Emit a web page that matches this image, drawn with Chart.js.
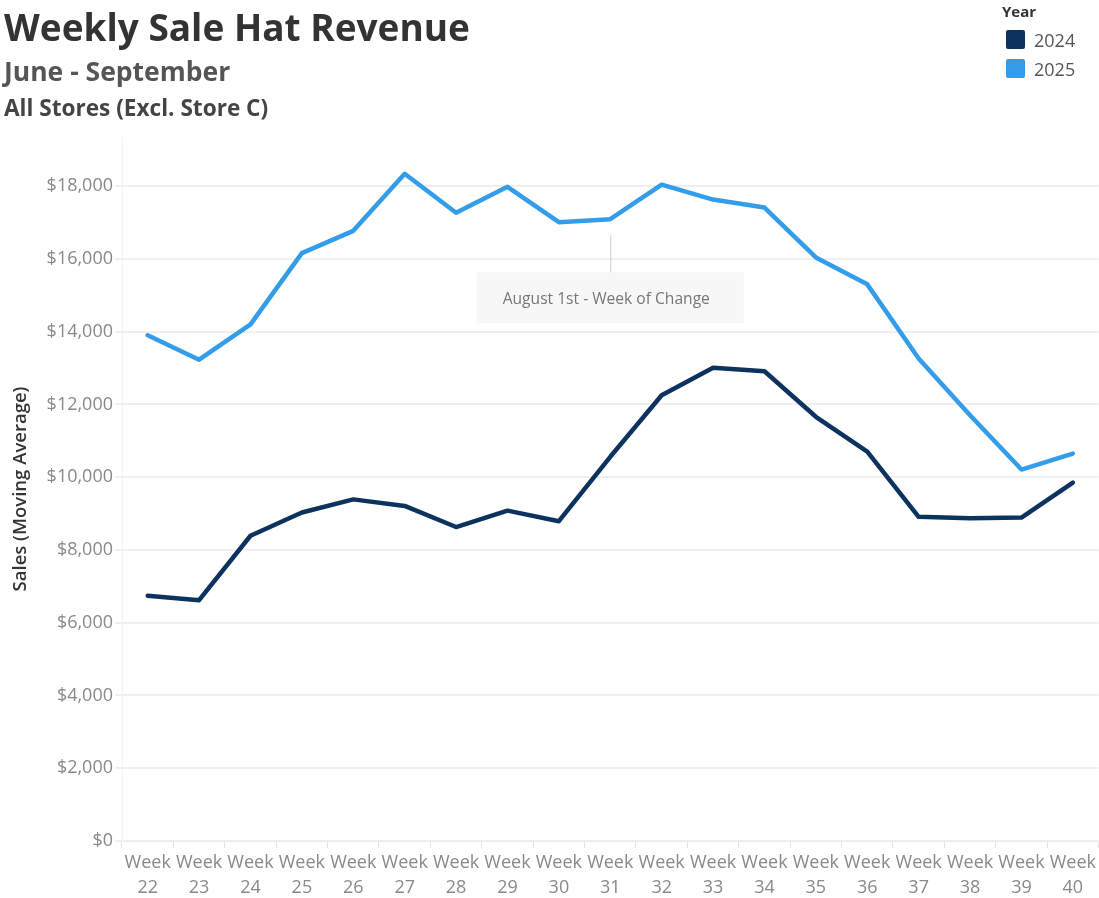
<!DOCTYPE html>
<html lang="en">
<head>
    <meta charset="UTF-8">
    <title>Weekly Sale Hat Revenue</title>
    <script src="https://cdn.jsdelivr.net/npm/chart.js"></script>
    <style>
        * {
            margin: 0;
            padding: 0;
            box-sizing: border-box;
        }

        body {
            background: #ffffff;
            font-family: 'Open Sans', sans-serif;
        }

        #wrap {
            position: relative;
            width: 1099px;
            height: 898px;
        }

        #chart-box {
            position: absolute;
            left: 0;
            top: 0;
            width: 1099px;
            height: 898px;
        }

        .head {
            position: absolute;
            left: 4px;
            line-height: 1;
            font-weight: 700;
            white-space: nowrap;
        }

        #title { top: 8px; font-size: 37px; color: #333333; }
        #sub1 { top: 58px; font-size: 26.5px; color: #555555; }
        #sub2 { top: 97px; font-size: 22.6px; color: #444444; }

        #legend {
            position: absolute;
            left: 1002px;
            top: 1px;
        }

        #legend .ttl {
            font-size: 15px;
            font-weight: 700;
            color: #333333;
            height: 24px;
        }

        #legend .item {
            display: flex;
            align-items: center;
            height: 29px;
            margin-left: 4px;
        }

        #legend .sw {
            width: 19px;
            height: 19px;
            border-radius: 2px;
            margin-right: 9px;
        }

        #legend .lbl {
            font-size: 18px;
            color: #555555;
        }
    </style>
</head>

<body>
    <div id="wrap">
        <div id="chart-box"><canvas id="salesChart"></canvas></div>
        <div class="head" id="title">Weekly Sale Hat Revenue</div>
        <div class="head" id="sub1">June - September</div>
        <div class="head" id="sub2">All Stores (Excl. Store C)</div>
        <div id="legend"><div class="ttl">Year</div></div>
    </div>

    <script>
        // weeks shown on the x axis
        const weekNumbers = [22, 23, 24, 25, 26, 27, 28, 29, 30, 31, 32, 33, 34, 35, 36, 37, 38, 39, 40];

        // moving average of weekly sales
        const sales2024 = [6740, 6620, 8390, 9030, 9390, 9210, 8630, 9080, 8790, 10560, 12250, 13010, 12910, 11660, 10700, 8910, 8870, 8890, 9850];
        const sales2025 = [13900, 13230, 14200, 16160, 16770, 18340, 17270, 17980, 17010, 17090, 18040, 17630, 17410, 16040, 15300, 13260, 11700, 10210, 10650];

        // y axis ticks
        const yTicks = [0, 2000, 4000, 6000, 8000, 10000, 12000, 14000, 16000, 18000];
        const yMax = 19350;

        const years = ['2024', '2025'];
        const yearColors = ['#0b335e', '#339de9'];

        // note pinned to the 2025 line
        const noteWeek = 31;
        const noteText = 'August 1st - Week of Change';

        const labels = weekNumbers.map(w => ['Week', String(w)]);
        const axisGray = '#898989';

        const calloutPlugin = {
            id: 'callout',
            afterDatasetsDraw(chart) {
                const ctx = chart.ctx;
                const idx = weekNumbers.indexOf(noteWeek);
                const x = chart.scales.x.getPixelForValue(idx);
                const y = chart.scales.y.getPixelForValue(sales2025[idx]);
                const boxW = 267, boxH = 51;
                const boxTop = y + 53;

                ctx.save();
                ctx.fillStyle = '#f7f7f7';
                ctx.fillRect(x - boxW / 2, boxTop, boxW, boxH);

                ctx.strokeStyle = '#cccccc';
                ctx.lineWidth = 1;
                ctx.beginPath();
                ctx.moveTo(x + 0.5, y + 16);
                ctx.lineTo(x + 0.5, boxTop);
                ctx.stroke();

                ctx.fillStyle = '#777777';
                ctx.font = '15.6px "Open Sans"';
                ctx.textAlign = 'center';
                ctx.textBaseline = 'middle';
                ctx.fillText(noteText, x - 4, boxTop + 27);
                ctx.restore();
            }
        };

        const lineStyle = {
            borderWidth: 4.5,
            pointRadius: 0,
            tension: 0,
            borderJoinStyle: 'round',
            borderCapStyle: 'round'
        };

        const ctx = document.getElementById('salesChart').getContext('2d');
        const chart = new Chart(ctx, {
            type: 'line',
            data: {
                labels: labels,
                datasets: [
                    Object.assign({
                        label: years[0],
                        data: sales2024,
                        borderColor: yearColors[0],
                        backgroundColor: yearColors[0]
                    }, lineStyle),
                    Object.assign({
                        label: years[1],
                        data: sales2025,
                        borderColor: yearColors[1],
                        backgroundColor: yearColors[1]
                    }, lineStyle)
                ]
            },
            options: {
                responsive: true,
                maintainAspectRatio: false,
                animation: false,
                layout: {
                    padding: { top: 137, right: 0, bottom: 0, left: 0 }
                },
                plugins: {
                    legend: { display: false },
                    tooltip: { enabled: false }
                },
                scales: {
                    x: {
                        offset: true,
                        grid: {
                            offset: true,
                            drawOnChartArea: false,
                            drawTicks: true,
                            tickLength: 7,
                            color: '#e4e4e4'
                        },
                        border: { display: true, color: '#ececec' },
                        ticks: {
                            autoSkip: false,
                            maxRotation: 0,
                            minRotation: 0,
                            padding: 3,
                            color: axisGray,
                            font: { family: 'Open Sans', size: 18, lineHeight: 1.35 }
                        },
                        afterFit(scale) {
                            scale.height = 57;
                        }
                    },
                    y: {
                        min: 0,
                        max: yMax,
                        grid: {
                            color: '#efefef',
                            lineWidth: 2,
                            tickLength: 7
                        },
                        border: { display: true, color: '#f2f2f2' },
                        afterBuildTicks(scale) {
                            scale.ticks = yTicks.map(v => ({ value: v }));
                        },
                        ticks: {
                            padding: 2,
                            color: axisGray,
                            font: { family: 'Open Sans', size: 18 },
                            callback: v => '$' + v.toLocaleString('en-US')
                        },
                        title: {
                            display: true,
                            text: 'Sales (Moving Average)',
                            color: '#333333',
                            font: { family: 'Open Sans', size: 18.5, weight: '600' },
                            padding: { top: 10, bottom: 0 }
                        },
                        afterFit(scale) {
                            scale.width = 122;
                        }
                    }
                }
            },
            plugins: [calloutPlugin]
        });

        // legend built from the same series colours
        const legend = document.getElementById('legend');
        years.forEach((yr, i) => {
            const item = document.createElement('div');
            item.className = 'item';
            item.innerHTML = '<div class="sw" style="background:' + yearColors[i] + '"></div><span class="lbl">' + yr + '</span>';
            legend.appendChild(item);
        });
    </script>
</body>
</html>
